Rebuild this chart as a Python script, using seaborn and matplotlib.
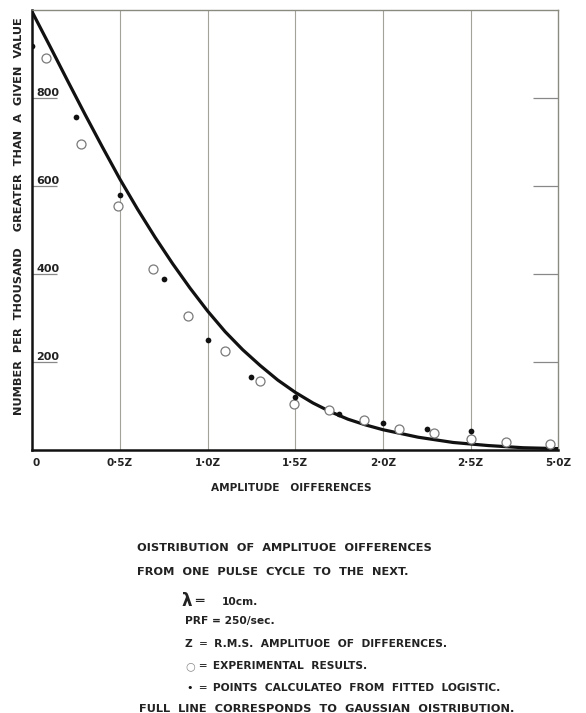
import matplotlib
matplotlib.use("Agg")
import matplotlib.pyplot as plt
import seaborn as sns
import pandas as pd

# ---- data (x in units of Z, y in number per thousand) ----
curve_x = [0.0, 0.1, 0.2, 0.3, 0.4, 0.5, 0.6, 0.7, 0.8, 0.9, 1.0, 1.1, 1.2, 1.3,
           1.4, 1.5, 1.6, 1.7, 1.8, 1.9, 2.0, 2.2, 2.4, 2.6, 2.8, 3.0]
curve_y = [995, 918, 840, 763, 688, 615, 547, 483, 423, 367, 315, 268, 227, 191,
           158, 130, 106, 86, 69, 56, 45, 28, 16, 9, 4, 2]

fitted_x = [0.0, 0.25, 0.5, 0.75, 1.0, 1.25, 1.5, 1.75, 2.0, 2.25, 2.5]
fitted_y = [918, 757, 579, 387, 249, 166, 120, 81, 61, 46, 42]

exp_x = [0.08, 0.28, 0.49, 0.69, 0.89, 1.1, 1.3, 1.49, 1.69, 1.89, 2.09, 2.29, 2.5, 2.7, 2.95]
exp_y = [890, 695, 554, 411, 304, 224, 155, 103, 90, 67, 47, 37, 23, 17, 13]

xtick_vals = [0, 0.5, 1.0, 1.5, 2.0, 2.5, 3.0]
xtick_labels = ["0", "0·5Z", "1·0Z", "1·5Z", "2·0Z", "2·5Z", "5·0Z"]
ytick_vals = [200, 400, 600, 800]
ytick_labels = ["200", "400", "600", "800"]

caption_lines = [
    "OISTRIBUTION  OF  AMPLITUOE  OIFFERENCES",
    "FROM  ONE  PULSE  CYCLE  TO  THE  NEXT.",
]
legend_lines = [
    "PRF = 250/sec.",
    "Z  ═  R.M.S.  AMPLITUOE  OF  DIFFERENCES.",
    "═  EXPERIMENTAL  RESULTS.",
    "═  POINTS  CALCULATEO  FROM  FITTED  LOGISTIC.",
]
last_line = "FULL  LINE  CORRESPONDS  TO  GAUSSIAN  OISTRIBUTION."

# ---- figure ----
sns.set_style("white")
plt.rcParams["font.family"] = ["DejaVu Sans"]
W, H = 586, 713
fig = plt.figure(figsize=(W / 100, H / 100), dpi=100)
ax = fig.add_axes([32.3 / W, 1 - 449.5 / H, (558.3 - 32.3) / W, (449.5 - 10) / H])

curve_df = pd.DataFrame({"x": curve_x, "y": curve_y})
fit_df = pd.DataFrame({"x": fitted_x, "y": fitted_y})
exp_df = pd.DataFrame({"x": exp_x, "y": exp_y})

for xv in xtick_vals[1:-1]:
    ax.axvline(xv, color="#a3a39a", lw=0.8, zorder=0)

sns.lineplot(data=curve_df, x="x", y="y", ax=ax, color="#111111", lw=2.3, zorder=3)
sns.scatterplot(data=exp_df, x="x", y="y", ax=ax, marker="o", s=42,
                facecolor="white", edgecolor="#7a7a7a", linewidth=0.9, zorder=4)
sns.scatterplot(data=fit_df, x="x", y="y", ax=ax, marker="o", s=17,
                color="#111111", edgecolor="#111111", linewidth=0, zorder=5)

ax.set_xlim(0, 3.0)
ax.set_ylim(0, 1000)

ax.set_xticks(xtick_vals)
ax.set_xticklabels(xtick_labels, fontsize=7.5, fontweight="bold", color="#222222")
ax.tick_params(axis="x", length=0, pad=6)
xl = ax.get_xticklabels()
xl[0].set_ha("left")

ax.set_yticks(ytick_vals)
ax.set_yticklabels(ytick_labels, fontsize=8, fontweight="bold", color="#222222")
ax.tick_params(axis="y", direction="in", length=18, width=0.9, color="#888888",
               left=True, right=True, labelleft=True, labelright=False, pad=-3)
for lab in ax.get_yticklabels():
    lab.set_ha("left")
    lab.set_va("bottom")

for side in ["left", "bottom"]:
    ax.spines[side].set_color("#111111")
    ax.spines[side].set_linewidth(1.8)
for side in ["top", "right"]:
    ax.spines[side].set_color("#8a8a80")
    ax.spines[side].set_linewidth(1.0)

ax.set_xlabel("AMPLITUDE   OIFFERENCES", fontsize=7.6, fontweight="bold", color="#222222")
ax.xaxis.set_label_coords(0.493, -0.076)
ax.set_ylabel("NUMBER  PER  THOUSAND    GREATER  THAN  A  GIVEN  VALUE",
              fontsize=8.2, fontweight="bold", color="#222222")
ax.yaxis.set_label_coords(-0.015, 0.531)

# ---- caption block ----
tk = dict(fontsize=8.2, fontweight="bold", color="#222222", va="center", ha="left")
tk2 = dict(tk, fontsize=7.7)
fig.text(137 / W, 1 - 548 / H, caption_lines[0], **tk)
fig.text(137 / W, 1 - 572 / H, caption_lines[1], **tk)
fig.text(181 / W, 1 - 601 / H, "λ", fontsize=12, fontweight="bold", color="#222222",
         va="center", ha="left")
fig.text(195 / W, 1 - 601 / H, "═", fontsize=10, fontweight="bold", color="#222222",
         va="center", ha="left")
fig.text(222 / W, 1 - 602 / H, "10cm.", **tk2)
fig.text(185 / W, 1 - 621 / H, legend_lines[0], **tk2)
fig.text(185 / W, 1 - 644 / H, legend_lines[1], **tk2)
fig.text(185 / W, 1 - 666 / H, "○", fontsize=8, color="#888888", va="center", ha="left")
fig.text(199 / W, 1 - 666 / H, legend_lines[2], **tk2)
fig.text(186 / W, 1 - 688 / H, "•", fontsize=8, color="#111111", va="center", ha="left")
fig.text(199 / W, 1 - 688 / H, legend_lines[3], **tk2)
fig.text(139 / W, 1 - 709 / H, last_line, **tk)

fig.savefig("out.png", dpi=100, facecolor="white")
